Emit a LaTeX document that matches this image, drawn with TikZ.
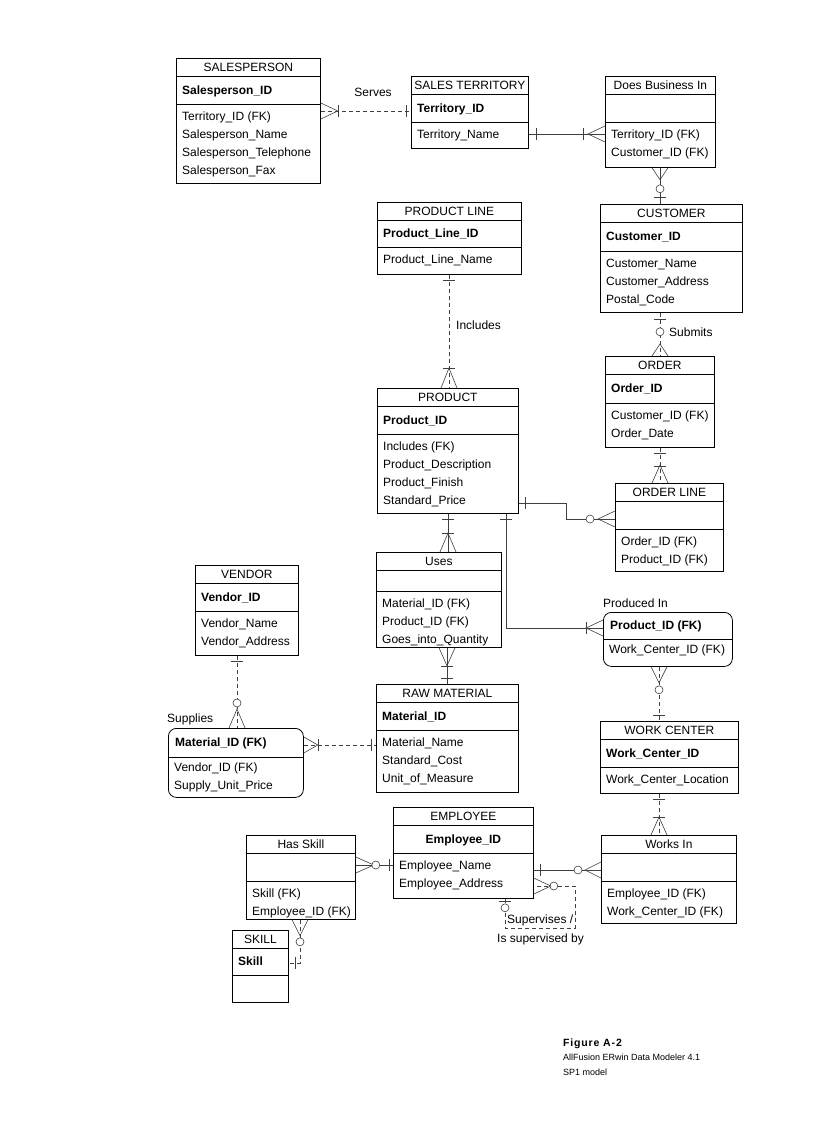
\documentclass[tikz,border=0pt]{standalone}
\usepackage{fontspec}
\setmainfont{Liberation Sans}
\usetikzlibrary{positioning,calc,decorations.markings}

% entity box: name, top left, width, height, key row height, title, key, attributes
\newcommand{\erbox}[8]{%
  \node[ent, minimum width=#3, minimum height=#4] (#1) at (#2) {};
  \draw[sep] ([yshift=-18]#1.north west) -- ([yshift=-18]#1.north east);
  \draw[sep] ([yshift=-18-#5]#1.north west) -- ([yshift=-18-#5]#1.north east);
  \node[ttl] (#1-t) at ([yshift=-9]#1.north) {#6};
  \node[keyf] (#1-k) at ([xshift=6,yshift=-18-#5/2]#1.north west) {#7};
  \foreach \a [count=\i] in {#8}
    \node[attr] (#1-\i) at ([xshift=6,yshift=-#5-12.5-18*\i]#1.north west) {\a};
}
% associative box with rounded corners: name, top left, width, height, key row height, key, attributes
\newcommand{\erassoc}[7]{%
  \node[ent, rounded corners=8pt, minimum width=#3, minimum height=#4] (#1) at (#2) {};
  \draw[sep] ([yshift=-#5]#1.north west) -- ([yshift=-#5]#1.north east);
  \node[keyf] (#1-k) at ([xshift=7,yshift=-#5/2]#1.north west) {#6};
  \foreach \a [count=\i] in {#7}
    \node[attr] (#1-\i) at ([xshift=6,yshift=-#5+8-18*\i]#1.north west) {\a};
}

\begin{document}
\begin{tikzpicture}[x=1pt, y=-1pt,
        font=\fontsize{12}{18}\selectfont,
        ent/.style={draw, rectangle, anchor=north west, inner sep=0, line width=0.8pt},
        sep/.style={line width=0.8pt},
        ttl/.style={inner sep=0, text height=8.5pt, text depth=0pt},
        keyf/.style={anchor=west, inner sep=0, text height=8.5pt, text depth=0pt, font=\fontsize{12}{18}\selectfont\bfseries},
        attr/.style={anchor=west, inner sep=0, text height=8.5pt, text depth=0pt},
        lbl/.style={inner sep=0, text height=8.5pt, text depth=0pt},
        rel/.style={line width=0.6pt, draw=black!75},
        idf/.style={rel},
        nid/.style={rel, dash pattern=on 4pt off 3pt},
        mk/.style 2 args={postaction={decorate, decoration={markings, mark=at position #1 with {#2}}}},
        sbar/.style={mk={#1pt}{\draw[solid] (0,-6pt) -- (0,6pt);}},
        ebar/.style={mk={-#1pt}{\draw[solid] (0,-6pt) -- (0,6pt);}},
        scirc/.style={mk={#1pt}{\draw[solid, fill=white] (0,0) circle (4pt);}},
        ecirc/.style={mk={-#1pt}{\draw[solid, fill=white] (0,0) circle (4pt);}},
        scrow/.style={mk={0}{\draw[solid] (0,8pt) -- (#1pt,0) -- (0,-8pt);}},
        ecrow/.style={mk={1}{\draw[solid] (0,8pt) -- (-#1pt,0) -- (0,-8pt);}}
    ]
    \useasboundingbox (0,0) rectangle (816,1123);

    \erbox{sp}{176,58}{144}{125}{28}{SALESPERSON}{Salesperson\_ID}{Territory\_ID (FK),Salesperson\_Name,Salesperson\_Telephone,Salesperson\_Fax}
    \erbox{st}{411,76}{117}{72}{28}{SALES TERRITORY}{Territory\_ID}{Territory\_Name}
    \erbox{dbi}{605,76}{110}{91}{28}{Does Business In}{}{Territory\_ID (FK),Customer\_ID (FK)}
    \erbox{pl}{377,202}{144}{72}{27}{PRODUCT LINE}{Product\_Line\_ID}{Product\_Line\_Name}
    \erbox{cu}{600,204}{142}{108}{29}{CUSTOMER}{Customer\_ID}{Customer\_Name,Customer\_Address,Postal\_Code}
    \erbox{ord}{605,356}{109}{91}{29}{ORDER}{Order\_ID}{Customer\_ID (FK),Order\_Date}
    \erbox{pr}{377,388}{141}{125}{28}{PRODUCT}{Product\_ID}{Includes (FK),Product\_Description,Product\_Finish,Standard\_Price}
    \erbox{ol}{615,483}{108}{88}{28}{ORDER LINE}{}{Order\_ID (FK),Product\_ID (FK)}
    \erbox{us}{376,552}{125}{95}{21}{Uses}{}{Material\_ID (FK),Product\_ID (FK),Goes\_into\_Quantity}
    \erbox{ve}{195,565}{103}{90}{28}{VENDOR}{Vendor\_ID}{Vendor\_Name,Vendor\_Address}
    \erbox{rm}{376,684}{142}{108}{28}{RAW MATERIAL}{Material\_ID}{Material\_Name,Standard\_Cost,Unit\_of\_Measure}
    \erbox{wc}{600,721}{138}{72}{28}{WORK CENTER}{Work\_Center\_ID}{Work\_Center\_Location}
    \erbox{em}{393,807}{140}{91}{28}{EMPLOYEE}{}{Employee\_Name,Employee\_Address}
    \node[keyf, anchor=center] (em-key) at ([yshift=-32]em.north) {Employee\_ID};
    \erbox{wi}{601,835}{135}{88}{28}{Works In}{}{Employee\_ID (FK),Work\_Center\_ID (FK)}
    \erbox{hs}{246,835}{109}{84}{28}{Has Skill}{}{Skill (FK),Employee\_ID (FK)}
    \erbox{sk}{232,930}{56}{72}{27}{SKILL}{Skill}{}
    \erassoc{su}{168,728}{135}{69}{29}{Material\_ID (FK)}{Vendor\_ID (FK),Supply\_Unit\_Price}
    \erassoc{pi}{603,612}{129}{54}{27}{Product\_ID (FK)}{Work\_Center\_ID (FK)}

    % relationships
    \draw[nid, scrow=17, sbar=17, ebar=5] ([yshift=-53]sp.north east) -- ([yshift=-35]st.north west);
    \draw[idf, sbar=7, ebar=22, ecrow=17] ([yshift=-58]st.north east) -- ([yshift=-58]dbi.north west);
    \draw[idf, scrow=12, scirc=21, ebar=7] ([xshift=55]dbi.south west) -- ([xshift=60]cu.north west);
    \draw[nid, sbar=5, ecrow=20, ebar=20] ([xshift=72]pl.south west) -- ([xshift=72]pr.north west);
    \draw[nid, sbar=6, scirc=19, ecrow=12] ([xshift=60]cu.south west) -- ([xshift=55]ord.north west);
    \draw[nid, sbar=5, ecrow=18, ebar=17] ([xshift=55]ord.south west) -- ([xshift=45]ol.north west);
    \draw[idf, sbar=6, ecirc=25, ecrow=17] ([yshift=11]pr.south east) -- ++(47,0) |- ([yshift=-36]ol.north west);
    \draw[idf, sbar=5, ecrow=19, ebar=19] ([xshift=71]pr.south west) -- ([xshift=72]us.north west);
    \draw[idf, sbar=5, ecrow=17, ebar=17] ([xshift=129]pr.south west) |- ([yshift=-16]pi.north west);
    \draw[idf, scrow=18, sbar=18, ebar=6] ([xshift=71]us.south west) -- ([xshift=71]rm.north west);
    \draw[nid, sbar=5, ecirc=25, ecrow=19] ([xshift=42]ve.south west) -- ([xshift=69]su.north west);
    \draw[nid, scrow=14, sbar=14, ebar=5] ([yshift=-17]su.north east) -- ([yshift=-61]rm.north west);
    \draw[nid, scrow=16, scirc=23, ebar=6] ([xshift=56]pi.south west) -- ([xshift=59]wc.north west);
    \draw[nid, sbar=5, ecrow=18, ebar=18] ([xshift=59]wc.south west) -- ([xshift=58]wi.north west);
    \draw[idf, sbar=6, ecirc=23, ecrow=16] ([yshift=-63]em.north east) -- ([yshift=-35]wi.north west);
    \draw[idf, scrow=18, scirc=20, ebar=4] ([yshift=-30]hs.north east) -- ([yshift=-58]em.north west);
    \draw[nid, scrow=16, scirc=22, ebar=6] ([xshift=54]hs.south west) |- ([yshift=-33]sk.north east);
    \draw[nid, sbar=2, scirc=9, ecirc=20, ecrow=17] ([xshift=112]em.south west) -- ++(0,29) -- ++(70,0) |- ([yshift=-79]em.north east);

    % relationship names
    \node[lbl] (serves) at (373,92) {Serves};
    \node[lbl, anchor=west] (incl) at (456,325) {Includes};
    \node[lbl, anchor=west] (subm) at (669,332) {Submits};
    \node[lbl, anchor=west] (supl) at (167,718) {Supplies};
    \node[lbl, anchor=west] (prin) at (603,603) {Produced In};
    \node[lbl, anchor=west] (supv) at (507,919) {Supervises /};
    \node[lbl, anchor=west] (isby) at (497,938) {Is supervised by};

    % caption
    \node[anchor=west, inner sep=0, font=\fontsize{10.5}{12}\selectfont\bfseries\addfontfeature{LetterSpace=8}] (fig) at (563,1044) {Figure A-2};
    \node[anchor=north west, inner sep=0, align=left, font=\fontsize{9}{15}\selectfont] (figtxt) at (563,1054) {AllFusion ERwin Data Modeler 4.1\\SP1 model};
\end{tikzpicture}
\end{document}
